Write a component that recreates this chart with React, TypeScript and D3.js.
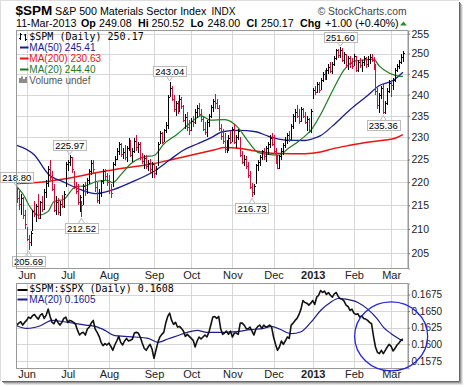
import { useEffect, useRef } from "react";
import * as d3 from "d3";

// trading-day index 0 = 24-May-2012, last = 11-Mar-2013
const monthLabels = ["Jun", "Jul", "Aug", "Sep", "Oct", "Nov", "Dec", "2013", "Feb", "Mar"];
const monthIdx = [5, 26, 47, 70, 89, 110, 131, 151, 172, 191];

const priceTicks = [205, 210, 215, 220, 225, 230, 235, 240, 245, 250, 255];
const ratioTicks = [0.1575, 0.16, 0.1625, 0.165, 0.1675];

const highs = [
  218.8, 218, 217.5, 216.8, 214, 210.5, 208.8, 209.5, 214, 216, 215.2, 217.5, 216, 217, 218.5, 220.5, 223.5, 225.0, 222.5, 219.5,
  217, 216.5, 216, 217.2, 218, 224.5, 225, 225.97, 225.5, 222.5, 220, 219.5, 217.2, 216, 219.5, 220, 220.8, 222.8, 224.8, 225,
  222, 220, 218.5, 220.5, 223, 222.8, 222, 221.5, 219.5, 224.5, 225.8, 227.5, 229, 228.8, 227.5, 228.2, 228, 229.8, 229.5, 227.5,
  229.8, 230.5, 229, 229, 226.5, 226, 226, 225, 225.2, 224.5, 224, 223.5, 229, 231.5, 231.2, 232, 233.5, 240, 243.04, 242,
  240, 238.5, 238.5, 239.8, 239.5, 237.5, 235.5, 236, 234, 234.5, 235, 236.5, 237.5, 238, 236.5, 235, 233.5, 234, 235.5, 237.5,
  239, 240.2, 239, 237.5, 233, 232, 231, 229.5, 230.5, 231.5, 232.5, 233, 230.5, 232, 230, 227, 226, 225.8, 224.5, 222.5,
  219.8, 219.5, 224, 225, 226, 227.2, 227.5, 228, 229, 230.5, 231, 230.5, 227.5, 226, 226, 227.5, 228.8, 230, 231, 231.5,
  233, 235.5, 236.5, 237.5, 236.5, 237, 236.8, 236, 235, 234.5, 236.5, 241.5, 242, 243, 243, 244, 245.5, 246, 246.5, 247.5,
  247.8, 248, 249.5, 251.2, 251.2, 251.6, 251.3, 250.5, 250, 249.5, 249.5, 249, 249.8, 249.5, 248.5, 249, 248.5, 249.5, 249.2, 249.3,
  249.8, 250, 249.2, 247.5, 241.5, 240.5, 242, 242.5, 238.5, 241.5, 243.5, 243.5, 244, 246.5, 247.5, 248.5, 249.8, 250.52,
];

const lows = [
  215.5, 214, 213, 212, 210, 207.5, 205.69, 206.5, 209.5, 212.5, 211.5, 212, 212, 213.5, 214, 216.5, 219, 220.5, 218, 213.5,
  213, 213, 212.8, 214.5, 214.5, 219, 222.5, 223.5, 222, 218.5, 217.5, 215, 213.5, 212.52, 215, 217, 217.5, 219.5, 221.5, 222,
  217.8, 215.5, 215.2, 216.8, 219.5, 220.5, 219.2, 217.5, 216.5, 219, 223.5, 224.8, 226, 225.5, 225.2, 225, 224.5, 227, 225.5, 224.5,
  226.5, 227, 226.5, 225, 224, 222.8, 223, 222.5, 222, 221, 220.8, 221.5, 223.5, 228.5, 228.5, 229, 231, 232, 239.5, 238.5,
  236, 235, 235.5, 235.8, 236.5, 233.5, 232, 231.5, 230.5, 231.5, 232.5, 233, 234.5, 235, 233.5, 231.5, 230.5, 230, 232.5, 234.5,
  236, 236.5, 236.5, 231.5, 229.5, 228.5, 226.5, 226.5, 227, 228.5, 229, 228.5, 227.5, 229.5, 225.5, 224, 223.5, 223, 221, 218.5,
  216.73, 217.3, 219.5, 222.5, 223.5, 225, 225, 224.5, 226, 227.5, 228, 226.5, 224, 222.8, 223, 225, 226, 227.5, 228.5, 229,
  229.5, 232, 233.5, 234.5, 233, 233.5, 234.5, 233, 231.5, 231, 231, 239, 240, 240.5, 240.5, 241, 243, 243.5, 243.5, 245,
  245.2, 245, 247, 248.5, 249, 248.8, 248, 247.5, 246.5, 246, 246.5, 246.2, 247, 245.5, 245.5, 246.5, 245.5, 247, 246.5, 246.8,
  247.5, 247.8, 246, 240, 236.5, 235.6, 239, 235.36, 235.5, 237.5, 240.5, 239.5, 241, 243, 245.5, 246.2, 247.5, 248,
];

const closes = [
  216.5, 215.2, 216.6, 213.0, 211.0, 207.9, 207.3, 209.2, 213.8, 213.2, 214.9, 212.4, 215.6, 214.2, 217.9, 219.8, 223.0, 221.2, 218.6, 214.0,
  215.7, 213.6, 215.3, 214.8, 217.5, 224.0, 224.4, 225.5, 222.8, 219.2, 218.0, 215.6, 216.8, 215.1, 219.2, 218.5, 220.5, 222.4, 224.3, 222.8,
  218.9, 216.2, 217.6, 220.2, 222.5, 221.4, 220.0, 218.2, 217.6, 224.0, 225.2, 227.0, 228.4, 226.2, 226.8, 225.6, 227.6, 229.2, 226.0, 227.0,
  229.2, 227.8, 228.6, 225.5, 224.6, 225.4, 223.6, 224.2, 222.8, 223.9, 222.0, 222.8, 228.6, 231.0, 229.0, 231.6, 232.8, 239.5, 241.6, 239.0,
  236.5, 237.9, 236.2, 239.0, 237.2, 234.0, 234.8, 232.3, 231.6, 233.8, 233.5, 236.0, 236.8, 235.5, 234.2, 232.0, 231.2, 233.6, 235.0, 237.0,
  238.6, 238.0, 236.8, 232.2, 230.4, 229.2, 227.4, 228.8, 229.8, 229.0, 232.0, 229.0, 230.0, 231.5, 226.0, 224.5, 225.2, 223.6, 221.6, 219.0,
  217.8, 219.2, 223.8, 224.4, 225.6, 226.9, 225.8, 227.5, 228.5, 229.8, 228.6, 227.0, 224.5, 223.2, 225.7, 226.9, 228.2, 229.4, 230.5, 229.6,
  232.6, 235.0, 236.0, 235.0, 233.8, 236.5, 235.0, 233.5, 234.2, 231.5, 236.2, 241.2, 240.6, 242.6, 241.2, 243.5, 245.0, 244.0, 245.9, 246.8,
  245.8, 247.5, 248.9, 250.9, 249.6, 250.8, 248.5, 249.8, 247.2, 248.8, 247.6, 246.9, 249.4, 246.0, 248.0, 247.2, 247.9, 248.8, 247.5, 248.6,
  249.2, 248.4, 246.8, 240.8, 237.5, 239.8, 241.5, 235.8, 238.0, 240.8, 242.8, 242.2, 243.4, 246.0, 247.0, 247.9, 249.2, 250.17,
];

// moving averages: [day index, value]
const ma50: [number, number][] = [
  [0, 228.2], [9, 226.0], [16, 221.8], [24, 220.0], [33, 218.3], [40, 217.5], [48, 218.2], [58, 219.9], [70, 222.4],
  [78, 224.9], [85, 227.1], [92, 228.5], [99, 229.9], [105, 231.3], [113, 231.6], [122, 231.3], [127, 230.5], [130, 230.0],
  [137, 229.4], [147, 229.3], [151, 229.7], [155, 230.4], [161, 232.6], [170, 236.4], [179, 239.8], [185, 242.2], [192, 243.4],
  [197, 245.41],
];
const ma200: [number, number][] = [
  [0, 219.7], [12, 220.0], [24, 220.7], [41, 222.1], [50, 222.8], [58, 223.3], [70, 224.1], [81, 225.2], [91, 226.2],
  [101, 227.2], [106, 227.7], [114, 227.5], [122, 226.9], [130, 226.4], [140, 226.3], [147, 226.3], [155, 226.7], [161, 227.4],
  [170, 228.2], [179, 228.9], [188, 229.4], [193, 229.8], [197, 230.63],
];
const ma20: [number, number][] = [
  [0, 219.0], [3, 217.5], [7, 214.5], [11, 212.9], [16, 213.7], [19, 215.8], [24, 216.3], [30, 219.0], [35, 219.2], [41, 220.2],
  [46, 220.4], [49, 219.9], [53, 221.6], [58, 224.0], [65, 225.6], [70, 225.9], [75, 228.5], [82, 230.8], [89, 233.5], [94, 235.0],
  [99, 234.0], [106, 234.1], [113, 232.2], [118, 229.1], [123, 226.6], [127, 226.2], [134, 226.0], [138, 227.3], [144, 229.2],
  [147, 230.3], [150, 231.6], [155, 235.3], [161, 240.8], [167, 246.0], [172, 248.1], [179, 248.5], [182, 248.6], [185, 246.9],
  [190, 245.2], [196, 244.4], [197, 244.4],
];

// $SPM:$SPX daily ratio
const ratio = [
  0.1629, 0.1632, 0.1634, 0.1629, 0.1633, 0.1636, 0.1641, 0.1639, 0.1643, 0.1645, 0.1641, 0.1638, 0.1644, 0.1646, 0.1639, 0.1644, 0.1653, 0.1642, 0.1633, 0.1631,
  0.1638, 0.1633, 0.1629, 0.1633, 0.1639, 0.1641, 0.1633, 0.1636, 0.1635, 0.1633, 0.163, 0.1621, 0.1614, 0.1617, 0.1618, 0.1614, 0.1623, 0.1626, 0.1632, 0.1636,
  0.1623, 0.1618, 0.1612, 0.1603, 0.1598, 0.1601, 0.1599, 0.1602, 0.1597, 0.1591, 0.1599, 0.1605, 0.1612, 0.1603, 0.1599, 0.1605, 0.1609, 0.1605, 0.1606, 0.1608,
  0.1617, 0.1618, 0.1617, 0.1611, 0.1602, 0.1594, 0.1591, 0.1596, 0.16, 0.1593, 0.1579, 0.1591, 0.1603, 0.1611, 0.1615, 0.1618, 0.1632, 0.1642, 0.1647, 0.1636,
  0.163, 0.1633, 0.1626, 0.1627, 0.1624, 0.162, 0.1612, 0.1615, 0.1612, 0.1609, 0.1606, 0.1596, 0.1605, 0.1611, 0.1608, 0.1611, 0.1614, 0.1611, 0.1618, 0.1629,
  0.1641, 0.1642, 0.1639, 0.1642, 0.1624, 0.1615, 0.1617, 0.162, 0.1615, 0.162, 0.1611, 0.1617, 0.1617, 0.1615, 0.1632, 0.1632, 0.1629, 0.1624, 0.1623, 0.1626,
  0.162, 0.1614, 0.1623, 0.1627, 0.1629, 0.1624, 0.1629, 0.1626, 0.1627, 0.1629, 0.1626, 0.1611, 0.16, 0.1591, 0.1596, 0.1605, 0.16, 0.1605, 0.1611, 0.1609,
  0.1629, 0.1632, 0.1636, 0.1639, 0.1645, 0.1653, 0.1666, 0.1663, 0.1662, 0.1659, 0.1662, 0.1666, 0.166, 0.1671, 0.1674, 0.1681, 0.1678, 0.168, 0.1675, 0.1678,
  0.1674, 0.1671, 0.1676, 0.1678, 0.1672, 0.1669, 0.1668, 0.1665, 0.1659, 0.1657, 0.1651, 0.1653, 0.1647, 0.1645, 0.1646, 0.1641, 0.1643, 0.1639, 0.1638, 0.1636,
  0.1633, 0.1631, 0.1612, 0.1596, 0.1588, 0.1586, 0.1591, 0.1586, 0.1591, 0.1596, 0.16, 0.1597, 0.159, 0.1594, 0.1599, 0.1602, 0.1606, 0.1608,
];
const ratioMa20: [number, number][] = [
  [0, 0.1628], [5, 0.1624], [12, 0.1628], [18, 0.1636], [24, 0.1634], [29, 0.1632], [35, 0.1629], [40, 0.1627], [45, 0.1621],
  [50, 0.1613], [55, 0.1612], [60, 0.1611], [67, 0.1609], [72, 0.1603], [77, 0.1608], [82, 0.1613], [87, 0.1618], [92, 0.1621],
  [97, 0.1618], [106, 0.1618], [112, 0.1619], [119, 0.1622], [126, 0.1624], [130, 0.1627], [134, 0.1623], [140, 0.1616],
  [145, 0.1619], [150, 0.1633], [155, 0.1651], [160, 0.1663], [164, 0.1669], [168, 0.1668], [174, 0.1663], [179, 0.1653],
  [184, 0.1638], [187, 0.1626], [191, 0.1616], [197, 0.1605],
];

const tags: { idx: number; value: number; kind: "hi" | "lo" }[] = [
  { idx: 0, value: 218.8, kind: "hi" },
  { idx: 27, value: 225.97, kind: "hi" },
  { idx: 78, value: 243.04, kind: "hi" },
  { idx: 165, value: 251.6, kind: "hi" },
  { idx: 6, value: 205.69, kind: "lo" },
  { idx: 33, value: 212.52, kind: "lo" },
  { idx: 120, value: 216.73, kind: "lo" },
  { idx: 187, value: 235.36, kind: "lo" },
];

const SANS = "'Liberation Sans', Arial, sans-serif";
const MONO = "'DejaVu Sans Mono', monospace";

const App = () => {
  const svgRef = useRef<SVGSVGElement>(null);

  useEffect(() => {
    const svg = d3.select(svgRef.current);
    svg.selectAll("*").remove();

    const L = 16.5, R = 408, T1 = 30.5, B1 = 268.5, T2 = 283.5, B2 = 368.5;
    const x = d3.scaleLinear().domain([-0.15, 199.6]).range([L, R]);
    const y = d3.scaleLog().domain([201.9, 255.8]).range([B1, T1]);
    const y2 = d3.scaleLinear().domain([0.15636, 0.16916]).range([B2, T2]);

    // frame + shadow
    svg.append("rect").attr("x", 0).attr("y", 0).attr("width", 464).attr("height", 387).attr("fill", "#fff");
    const shade = ["#666", "#999", "#c4c4c4", "#e4e4e4"];
    shade.forEach((c, k) => {
      svg.append("line").attr("x1", 459.5 + k).attr("x2", 459.5 + k).attr("y1", 2 + k).attr("y2", 381.5 + k).attr("stroke", c);
      svg.append("line").attr("x1", 2 + k).attr("x2", 459.5 + k).attr("y1", 381.5 + k).attr("y2", 381.5 + k).attr("stroke", c);
    });
    svg.append("line").attr("x1", 0.5).attr("x2", 0.5).attr("y1", 0).attr("y2", 381).attr("stroke", "#ddd");
    svg.append("line").attr("x1", 0).attr("x2", 459).attr("y1", 0.5).attr("y2", 0.5).attr("stroke", "#ddd");

    // header
    const head = svg.append("g").attr("font-family", SANS).attr("fill", "#000");
    head.append("text").attr("x", 15.5).attr("y", 15).attr("font-size", 13.5).attr("font-weight", "bold").text("$SPM");
    head.append("text").attr("x", 55).attr("y", 14.5).attr("font-size", 10.7).text("S&P 500 Materials Sector Index");
    head.append("text").attr("x", 211.5).attr("y", 14.5).attr("font-size", 10).text("INDX");
    head.append("text").attr("x", 406.5).attr("y", 14.5).attr("font-size", 10.3).attr("text-anchor", "end").attr("fill", "#444").text("\u00a9 StockCharts.com");
    const info: [number, string, boolean][] = [
      [16, "11-Mar-2013", false], [81, "Op", true], [99, "249.08", false], [138, "Hi", true], [151.5, "250.52", false],
      [190.5, "Lo", true], [207.5, "248.00", false], [246.5, "Cl", true], [261, "250.17", false], [300, "Chg", true],
      [325, "+1.00 (+0.40%)", false],
    ];
    info.forEach(([px, t, b]) => {
      head.append("text").attr("x", px).attr("y", 26.5).attr("font-size", 10.7).attr("font-weight", b ? "bold" : "normal").text(t);
    });
    head.append("path").attr("d", "M400,25.5 L403.5,21.5 L407,25.5 Z").attr("fill", "#2e8b2e");

    // panels background + grid
    const panels: [number, number][] = [[T1, B1], [T2, B2]];
    panels.forEach(([t, b]) => {
      svg.append("rect").attr("x", L).attr("y", t).attr("width", R - L).attr("height", b - t).attr("fill", "#fff");
      svg.append("g").selectAll("line").data(monthIdx).join("line")
        .attr("x1", (d) => Math.round(x(d)) + 0.5).attr("x2", (d) => Math.round(x(d)) + 0.5)
        .attr("y1", t).attr("y2", b).attr("stroke", "#d6d6d6");
    });
    svg.append("g").selectAll("line").data(priceTicks).join("line")
      .attr("x1", L).attr("x2", R).attr("y1", (d) => Math.round(y(d)) + 0.5).attr("y2", (d) => Math.round(y(d)) + 0.5)
      .attr("stroke", "#d6d6d6");
    svg.append("g").selectAll("line").data(ratioTicks).join("line")
      .attr("x1", L).attr("x2", R).attr("y1", (d) => Math.round(y2(d)) + 0.5).attr("y2", (d) => Math.round(y2(d)) + 0.5)
      .attr("stroke", "#d6d6d6");

    // clip paths
    const defs = svg.append("defs");
    defs.append("clipPath").attr("id", "c1").append("rect").attr("x", L).attr("y", T1).attr("width", R - L).attr("height", B1 - T1);
    defs.append("clipPath").attr("id", "c2").append("rect").attr("x", L).attr("y", T2).attr("width", R - L).attr("height", B2 - T2);

    const p1 = svg.append("g").attr("clip-path", "url(#c1)");

    // moving averages
    const maLine = d3.line<[number, number]>().x((d) => x(d[0])).y((d) => y(d[1])).curve(d3.curveMonotoneX);
    p1.append("path").attr("d", maLine(ma200)).attr("fill", "none").attr("stroke", "#ee1111").attr("stroke-width", 1.5);
    p1.append("path").attr("d", maLine(ma50)).attr("fill", "none").attr("stroke", "#1c1c8c").attr("stroke-width", 1.3);
    p1.append("path").attr("d", maLine(ma20)).attr("fill", "none").attr("stroke", "#1f7a1f").attr("stroke-width", 1.2);

    // HLC bars
    const bars = p1.append("g").attr("shape-rendering", "crispEdges");
    closes.forEach((c, i) => {
      const col = i > 0 && c >= closes[i - 1] ? "#000" : "#d0103a";
      const bx = Math.round(x(i)) + 0.5;
      bars.append("line").attr("x1", bx).attr("x2", bx).attr("y1", y(highs[i])).attr("y2", y(lows[i])).attr("stroke", col);
      bars.append("line").attr("x1", bx).attr("x2", bx + 1.5).attr("y1", Math.round(y(c)) + 0.5).attr("y2", Math.round(y(c)) + 0.5).attr("stroke", col);
    });

    // price tags
    tags.forEach((t) => {
      const cx = x(t.idx);
      const ty = y(t.value);
      const g = svg.append("g");
      const txt = g.append("text").attr("font-family", SANS).attr("font-size", 9.5).attr("text-anchor", "middle")
        .attr("x", cx).text(t.value.toFixed(2));
      const w = (txt.node() as SVGTextElement).getComputedTextLength() + 4;
      const top = t.kind === "hi" ? ty - 15.5 : ty + 6;
      const bot = top + 10;
      g.insert("rect", "text").attr("x", Math.round(cx - w / 2) + 0.5).attr("y", Math.round(top) + 0.5)
        .attr("width", Math.round(w)).attr("height", 10).attr("fill", "#fff").attr("stroke", "#bbb");
      txt.attr("y", Math.round(top) + 9);
      const py = t.kind === "hi" ? Math.round(bot) + 0.5 : Math.round(top) + 0.5;
      const tip = t.kind === "hi" ? ty - 1 : ty + 1;
      g.append("path").attr("d", `M${cx - 3},${py} L${cx},${tip} L${cx + 3},${py}`).attr("fill", "none").attr("stroke", "#bbb");
    });

    // ratio panel
    const p2 = svg.append("g").attr("clip-path", "url(#c2)");
    const rLine = d3.line<number>().x((_, i) => x(i)).y((d) => y2(d));
    const rMa = d3.line<[number, number]>().x((d) => x(d[0])).y((d) => y2(d[1])).curve(d3.curveMonotoneX);
    p2.append("path").attr("d", rMa(ratioMa20)).attr("fill", "none").attr("stroke", "#1c1c8c").attr("stroke-width", 1.2);
    p2.append("path").attr("d", rLine(ratio)).attr("fill", "none").attr("stroke", "#111").attr("stroke-width", 1.6)
      .attr("stroke-linejoin", "round");

    // panel borders
    panels.forEach(([t, b]) => {
      svg.append("rect").attr("x", L).attr("y", t).attr("width", R - L).attr("height", b - t)
        .attr("fill", "none").attr("stroke", "#999");
    });

    // right axes
    const ax1 = svg.append("g").attr("transform", `translate(${R},0)`)
      .call(d3.axisRight(y).tickValues(priceTicks).tickFormat(d3.format("d")).tickSize(2).tickPadding(1.5));
    const ax2 = svg.append("g").attr("transform", `translate(${R},0)`)
      .call(d3.axisRight(y2).tickValues(ratioTicks).tickFormat(d3.format(".4f")).tickSize(2).tickPadding(1.5));
    [ax1, ax2].forEach((a) => {
      a.select(".domain").attr("stroke", "#999");
      a.selectAll("line").attr("stroke", "#777");
      a.selectAll("text").attr("font-family", SANS).attr("fill", "#222");
    });
    ax1.selectAll("text").attr("font-size", 10.5);
    ax2.selectAll("text").attr("font-size", 10);

    // month axes
    [[B1, 3], [B2, 2]].forEach(([b, pad]) => {
      const ax = svg.append("g").attr("transform", `translate(0,${b})`)
        .call(d3.axisBottom(x).tickValues(monthIdx).tickFormat((_, i) => monthLabels[i]).tickSize(0).tickPadding(pad));
      ax.select(".domain").remove();
      ax.selectAll("text").attr("font-family", SANS).attr("font-size", 11).attr("fill", "#222")
        .attr("font-weight", (d) => (d === 151 ? "bold" : "normal"));
    });

    // legends
    const lg = svg.append("g").attr("font-size", 10);
    // bar icon
    lg.append("path").attr("d", "M20.5,33 V40 M19,38.5 H20.5 M20.5,34.5 H22 M25.5,34 V41 M24,35 H25.5 M25.5,39.5 H27")
      .attr("stroke", "#000").attr("fill", "none");
    lg.append("text").attr("x", 29.3).attr("y", 40).attr("font-family", MONO).text("$SPM (Daily) 250.17");
    const maLeg: [string, string][] = [["MA(50) 245.41", "#1c1c8c"], ["MA(200) 230.63", "#ee1111"], ["MA(20) 244.40", "#1f7a1f"]];
    maLeg.forEach(([t, c], k) => {
      const by = 51 + k * 11;
      lg.append("line").attr("x1", 20).attr("x2", 28.5).attr("y1", by - 3.5).attr("y2", by - 3.5).attr("stroke", c).attr("stroke-width", 2);
      lg.append("text").attr("x", 29.3).attr("y", by).attr("font-family", SANS).attr("fill", c).text(t);
    });
    lg.append("path").attr("d", "M20,83 V78 M22,83 V76.5 M24,83 V79 M26,83 V77").attr("stroke", "#666").attr("stroke-width", 1.5);
    lg.append("text").attr("x", 29.3).attr("y", 84).attr("font-family", SANS).attr("fill", "#555").text("Volume undef");

    lg.append("line").attr("x1", 17.5).attr("x2", 27.5).attr("y1", 290).attr("y2", 290).attr("stroke", "#000").attr("stroke-width", 2);
    lg.append("text").attr("x", 29.3).attr("y", 292).attr("font-family", MONO).text("$SPM:$SPX (Daily) 0.1608");
    lg.append("line").attr("x1", 17.5).attr("x2", 27.5).attr("y1", 299.5).attr("y2", 299.5).attr("stroke", "#1c1c8c").attr("stroke-width", 2);
    lg.append("text").attr("x", 29.3).attr("y", 303).attr("font-family", SANS).attr("fill", "#1c1c8c").text("MA(20) 0.1605");

    // annotation circle
    svg.append("ellipse").attr("cx", x(191)).attr("cy", y2(0.1612)).attr("rx", 36.5).attr("ry", 34.5)
      .attr("fill", "none").attr("stroke", "#2323e0").attr("stroke-width", 1.3);

    return () => {
      svg.selectAll("*").remove();
    };
  }, []);

  return (
    <svg ref={svgRef} width={464} height={387} style={{ position: "absolute", left: 0, top: 0 }} />
  );
};

export default App;
